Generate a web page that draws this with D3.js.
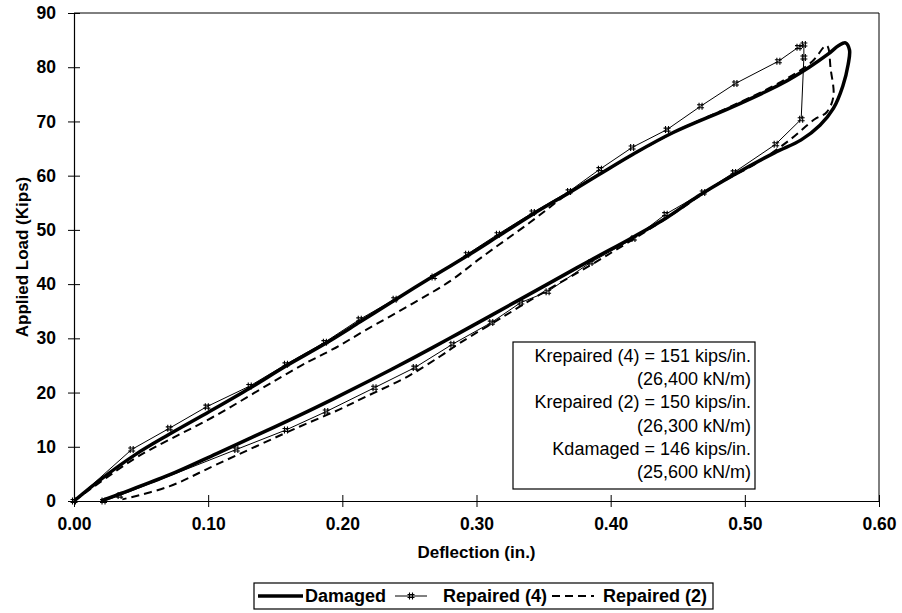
<!DOCTYPE html>
<html><head><meta charset="utf-8">
<script src="https://cdn.jsdelivr.net/npm/d3@7"></script>
<style>
body{margin:0;background:#fff;}
svg{font-family:"Liberation Sans",Arial,sans-serif;}
</style></head>
<body><svg id="c" width="902" height="613"></svg>
<script>
// Data (deflection in., load kips)
const damagedX = [0,0.020,0.046,0.071,0.101,0.131,0.158,0.187,0.213,0.238,0.268,0.295,0.316,0.342,0.370,0.392,0.417,0.447,0.490,0.527,0.548,0.562,0.570,0.575,0.578,0.577,0.573,0.566,0.556,0.542,0.522,0.490,0.465,0.442,0.417,0.385,0.353,0.310,0.280,0.253,0.222,0.193,0.168,0.135,0.106,0.071,0.034,0.020];
const damagedY = [0,4.0,8.6,12.3,16.5,20.8,24.9,29.0,33.0,36.9,41.5,45.5,48.8,52.9,57.0,60.3,64.0,68.0,72.6,76.9,80.0,82.4,84.0,84.5,83.2,80.5,76.5,72.4,69.3,66.6,64.2,59.9,56.2,52.3,48.7,44.4,40.0,34.1,30.0,26.4,22.4,18.8,15.8,12.0,8.7,4.8,1.3,0];

const rep4X = [0,0.043,0.071,0.099,0.131,0.158,0.187,0.213,0.239,0.268,0.293,0.316,0.342,0.369,0.392,0.416,0.442,0.467,0.493,0.525,0.540,0.544,0.544,0.542,0.523,0.492,0.469,0.441,0.417,0.385,0.353,0.333,0.311,0.282,0.254,0.224,0.188,0.158,0.121,0.034,0.022];
const rep4Y = [0,9.5,13.4,17.4,21.2,25.2,29.3,33.5,37.2,41.3,45.5,49.2,53.2,57.1,61.2,65.2,68.5,72.8,77.0,81.1,83.7,84.2,81.8,70.4,65.8,60.6,56.9,52.9,48.4,44.0,38.6,36.6,32.9,28.9,24.6,20.9,16.5,13.1,9.5,1.0,0];

const rep2X = [0,0.045,0.071,0.103,0.168,0.193,0.218,0.253,0.280,0.303,0.340,0.370,0.400,0.447,0.490,0.527,0.550,0.561,0.564,0.566,0.561,0.552,0.534,0.510,0.477,0.450,0.417,0.385,0.350,0.320,0.288,0.273,0.249,0.218,0.198,0.168,0.106,0.071,0.036];
const rep2Y = [0,7.8,11.3,15.4,24.8,28.0,31.6,36.5,40.5,44.8,51.4,57.0,61.5,68.0,72.8,77.3,81.0,84.0,79.6,74.6,71.7,70.4,66.7,62.5,58.0,53.5,48.3,43.5,38.5,34.0,29.2,26.7,23.0,19.3,16.9,13.7,6.7,2.7,0.3];

const xTicks = [0,0.1,0.2,0.3,0.4,0.5,0.6];
const yTicks = [0,10,20,30,40,50,60,70,80,90];
const boxLines = ["Krepaired (4) = 151 kips/in.","(26,400 kN/m)","Krepaired (2) = 150 kips/in.","(26,300 kN/m)","Kdamaged = 146 kips/in.","(25,600 kN/m)"];

const svg = d3.select("#c");
const L=74, R=879, T=13, B=501;
const x = d3.scaleLinear().domain([0,0.6]).range([L,R]);
const y = d3.scaleLinear().domain([0,90]).range([B,T]);

// plot frame (top/right)
svg.append("path").attr("d",`M${L},${T}H${R}V${B}`).attr("fill","none").attr("stroke","#000").attr("stroke-width",1);

// axes
const yAx = svg.append("g").attr("transform",`translate(${L},0)`)
  .call(d3.axisLeft(y).tickValues(yTicks).tickSize(6).tickSizeOuter(0).tickPadding(12).tickFormat(d3.format("d")));
yAx.selectAll(".tick line").attr("x2",6).attr("x1",-6);
const xAx = svg.append("g").attr("transform",`translate(0,${B})`)
  .call(d3.axisBottom(x).tickValues(xTicks).tickSize(6).tickSizeOuter(0).tickPadding(11).tickFormat(d3.format(".2f")));
xAx.selectAll(".tick line").attr("y1",-6).attr("y2",6);
[yAx,xAx].forEach(a=>{
  a.select(".domain").attr("stroke","#000").attr("stroke-width",1.2);
  a.selectAll(".tick line").attr("stroke","#000");
  a.selectAll("text").attr("font-size",17.5).attr("font-weight","bold").attr("fill","#000").attr("font-family","Liberation Sans, Arial, sans-serif");
});
xAx.selectAll("text").attr("dy","0.71em");

// axis titles
svg.append("text").attr("x",(L+R)/2).attr("y",558).attr("text-anchor","middle")
  .attr("font-size",17).attr("font-weight","bold").text("Deflection (in.)");
svg.append("text").attr("transform",`translate(28,${(T+B)/2}) rotate(-90)`).attr("text-anchor","middle")
  .attr("font-size",17).attr("font-weight","bold").text("Applied Load (Kips)");

const mk = (X,Y)=>X.map((v,i)=>[v,Y[i]]);
const lineC = d3.line().x(d=>x(d[0])).y(d=>y(d[1])).curve(d3.curveCatmullRom.alpha(0.5));
const lineL = d3.line().x(d=>x(d[0])).y(d=>y(d[1]));

// damaged thick
svg.append("path").datum(mk(damagedX,damagedY)).attr("d",lineC).attr("fill","none")
  .attr("stroke","#000").attr("stroke-width",3.5).attr("stroke-linejoin","round");
// repaired (2) dashed
svg.append("path").datum(mk(rep2X,rep2Y)).attr("d",lineC).attr("fill","none")
  .attr("stroke","#000").attr("stroke-width",2).attr("stroke-dasharray","8,5");
// repaired (4) thin with markers
const r4 = mk(rep4X,rep4Y);
svg.append("path").datum(r4).attr("d",lineL).attr("fill","none").attr("stroke","#000").attr("stroke-width",1);
function marker(g,cx,cy){
  g.append("path")
    .attr("d",`M${cx-3.5},${cy-1.5}H${cx+3.5}M${cx-3.5},${cy+1.5}H${cx+3.5}M${cx-1.5},${cy-3.5}V${cy+3.5}M${cx+1.5},${cy-3.5}V${cy+3.5}`)
    .attr("stroke","#000").attr("stroke-width",1.1).attr("fill","none");
}
const mg = svg.append("g");
r4.forEach(d=>marker(mg,x(d[0]),y(d[1])));

// text box
const bx=513, by=342, bw=242, bh=147;
svg.append("rect").attr("x",bx).attr("y",by).attr("width",bw).attr("height",bh)
  .attr("fill","#fff").attr("stroke","#000").attr("stroke-width",1.2);
boxLines.forEach((t,i)=>{
  svg.append("text").attr("x",bx+bw-4).attr("y",by+20+i*23.2).attr("text-anchor","end")
    .attr("font-size",18).attr("fill","#000").text(t);
});

// legend
const lg = svg.append("g");
lg.append("rect").attr("x",254).attr("y",583).attr("width",459).attr("height",26)
  .attr("fill","#fff").attr("stroke","#000").attr("stroke-width",1.2);
const ly=596;
lg.append("line").attr("x1",258).attr("x2",303).attr("y1",ly).attr("y2",ly).attr("stroke","#000").attr("stroke-width",3.5);
lg.append("text").attr("x",305).attr("y",ly+6).attr("font-size",18).attr("font-weight","bold").text("Damaged");
lg.append("line").attr("x1",395).attr("x2",427).attr("y1",ly).attr("y2",ly).attr("stroke","#000").attr("stroke-width",1);
marker(lg,411,ly);
lg.append("text").attr("x",443).attr("y",ly+6).attr("font-size",18).attr("font-weight","bold").text("Repaired (4)");
lg.append("line").attr("x1",552).attr("x2",594).attr("y1",ly).attr("y2",ly).attr("stroke","#000").attr("stroke-width",2).attr("stroke-dasharray","8,5");
lg.append("text").attr("x",603).attr("y",ly+6).attr("font-size",18).attr("font-weight","bold").text("Repaired (2)");
</script></body></html>
